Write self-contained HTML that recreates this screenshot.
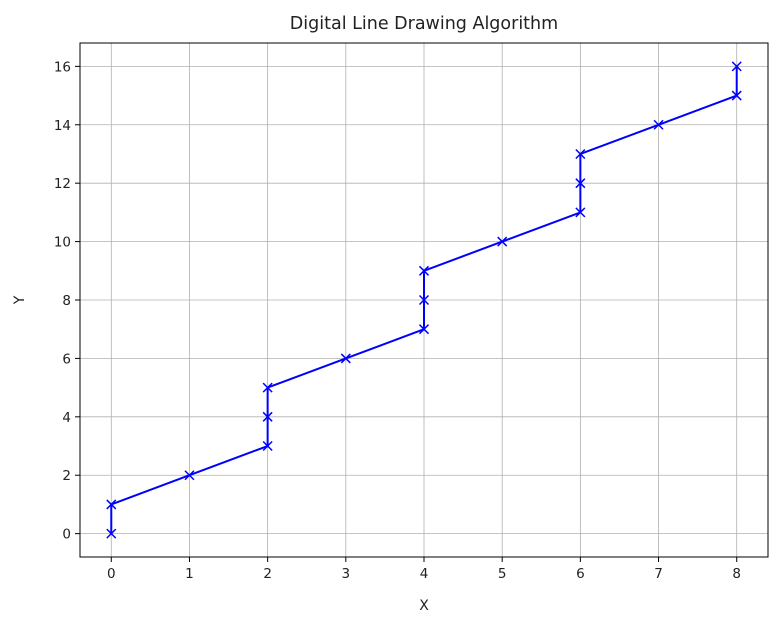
<!DOCTYPE html>
<html><head><meta charset="utf-8"><style>
body{margin:0;background:#fff;}
svg text{font-family:"DejaVu Sans","Liberation Sans",sans-serif;fill:#222;}
</style></head><body>
<svg id="chart" width="780" height="630" xmlns="http://www.w3.org/2000/svg">
<text x="424" y="29" font-size="17.5" text-anchor="middle">Digital Line Drawing Algorithm</text>
<g id="grid"></g>
<g id="ticks"></g>
<g id="series"></g>
<rect x="80" y="43" width="688" height="514" fill="none" stroke="#000" stroke-width="1"/>
<text x="424" y="610" font-size="14" text-anchor="middle">X</text>
<text x="24" y="300" font-size="14" text-anchor="middle" transform="rotate(-90 24 300)">Y</text>
</svg>
<script>
const xValues=[0,0,1,2,2,2,3,4,4,4,5,6,6,6,7,8,8];
const yValues=[0,1,2,3,4,5,6,7,8,9,10,11,12,13,14,15,16];
const xTicks=[0,1,2,3,4,5,6,7,8];
const yTicks=[0,2,4,6,8,10,12,14,16];
const L=80,R=768,T=43,B=557,xmin=-0.4,xmax=8.4,ymin=-0.8,ymax=16.8;
const sx=v=>L+(v-xmin)/(xmax-xmin)*(R-L);
const sy=v=>B-(v-ymin)/(ymax-ymin)*(B-T);
const NS="http://www.w3.org/2000/svg";
function mk(tag,attrs,parent){const e=document.createElementNS(NS,tag);for(const k in attrs)e.setAttribute(k,attrs[k]);parent.appendChild(e);return e;}
const grid=document.getElementById('grid'),ticks=document.getElementById('ticks'),series=document.getElementById('series');
xTicks.forEach(t=>{const x=sx(t);
 let g=mk('line',{x1:x,x2:x,y1:T,y2:B,stroke:'#b0b0b0','stroke-width':0.8},grid);
 
 let tk=mk('line',{x1:x,x2:x,y1:B,y2:B+5,stroke:'#000'},ticks);
 
 let tx=mk('text',{x:x,y:B+21,'font-size':13.5,'text-anchor':'middle'},ticks);tx.textContent=t;
 });
yTicks.forEach(t=>{const y=sy(t);
 let g=mk('line',{x1:L,x2:R,y1:y,y2:y,stroke:'#b0b0b0','stroke-width':0.8},grid);
 
 let tk=mk('line',{x1:L-5,x2:L,y1:y,y2:y,stroke:'#000'},ticks);
 
 let tx=mk('text',{x:L-9,y:y+5,'font-size':13.5,'text-anchor':'end'},ticks);tx.textContent=t;
 });
const pts=xValues.map((v,i)=>sx(v)+','+sy(yValues[i])).join(' ');
let pl=mk('polyline',{points:pts,fill:'none',stroke:'#0000ff','stroke-width':2},series);

xValues.forEach((v,i)=>{const x=sx(v),y=sy(yValues[i]),s=4.5;
 let m=mk('path',{d:`M${x-s},${y-s}L${x+s},${y+s}M${x-s},${y+s}L${x+s},${y-s}`,stroke:'#0000ff','stroke-width':1.5},series);
 });
</script>
</body></html>
